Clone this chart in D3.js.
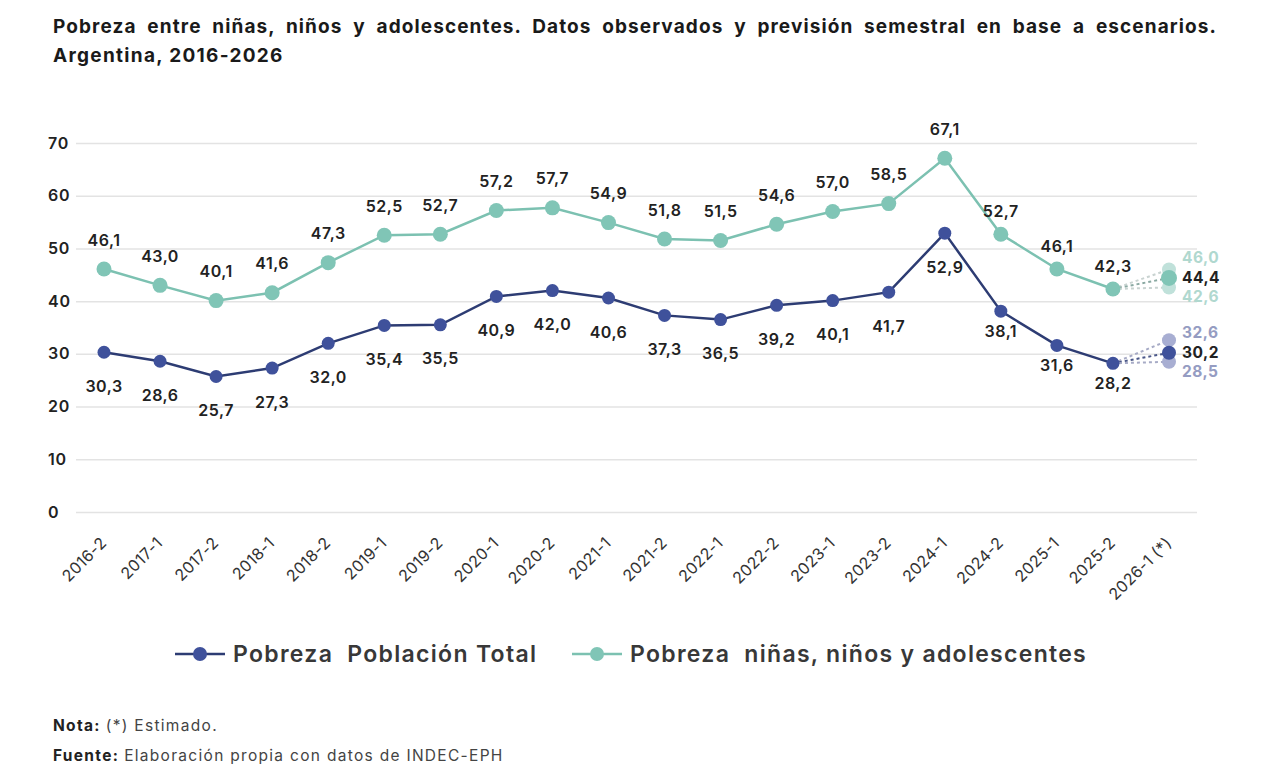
<!DOCTYPE html>
<html lang="es">
<head>
<meta charset="UTF-8">
<title>Pobreza entre niñas, niños y adolescentes</title>
<script src="https://d3js.org/d3.v7.min.js"></script>
<style>
  body { margin: 0; background: #fff; }
  svg { font-family: Inter, "Open Sans", sans-serif; }
  text { white-space: pre; }
</style>
</head>
<body>
<script>
// semestres observados + estimado
const categories = ["2016-2", "2017-1", "2017-2", "2018-1", "2018-2", "2019-1", "2019-2",
  "2020-1", "2020-2", "2021-1", "2021-2", "2022-1", "2022-2", "2023-1", "2023-2",
  "2024-1", "2024-2", "2025-1", "2025-2", "2026-1 (*)"];
const totalValues = [30.3, 28.6, 25.7, 27.3, 32.0, 35.4, 35.5, 40.9, 42.0, 40.6, 37.3,
  36.5, 39.2, 40.1, 41.7, 52.9, 38.1, 31.6, 28.2];
const childValues = [46.1, 43.0, 40.1, 41.6, 47.3, 52.5, 52.7, 57.2, 57.7, 54.9, 51.8,
  51.5, 54.6, 57.0, 58.5, 67.1, 52.7, 46.1, 42.3];
// escenarios 2026-1: alto, central, bajo
const totalScenarios = [32.6, 30.2, 28.5];
const childScenarios = [46.0, 44.4, 42.6];
const yTicks = [0, 10, 20, 30, 40, 50, 60, 70];

const width = 1280, height = 768;
const fmt = v => d3.format(".1f")(v).replace(".", ",");

const svg = d3.select("body").append("svg")
  .attr("width", width).attr("height", height);

// escalas
const x = d3.scalePoint().domain(categories).range([104, 1169]);
const y = d3.scaleLinear().domain([0, 70]).range([512, 143]);
const gridLeft = 76, gridRight = 1197;

// título (justificado a lo ancho)
const titleLines = [
  "Pobreza entre niñas, niños y adolescentes. Datos observados y previsión semestral en base a escenarios.",
  "Argentina, 2016-2026"
];
const title1 = svg.append("text")
  .attr("x", 53).attr("y", 33)
  .attr("font-size", 19).attr("font-weight", 700).attr("letter-spacing", 1.1).attr("fill", "#1a1a1a")
  .text(titleLines[0]);
const len = title1.node().getComputedTextLength();
const spaces = titleLines[0].split(" ").length - 1;
title1.attr("word-spacing", Math.max(0, (1217 - 53 - len) / spaces));
svg.append("text")
  .attr("x", 53).attr("y", 62)
  .attr("font-size", 19).attr("font-weight", 700).attr("letter-spacing", 1.3).attr("fill", "#1a1a1a")
  .text(titleLines[1]);

// eje y + grilla
const yAxis = svg.append("g")
  .attr("transform", "translate(" + gridLeft + ",0)")
  .call(d3.axisLeft(y).tickValues(yTicks).tickSize(-(gridRight - gridLeft)).tickFormat(d3.format("d")));
yAxis.select(".domain").remove();
yAxis.selectAll(".tick line").attr("stroke", "#e3e3e3").attr("stroke-width", 1.5);
yAxis.selectAll(".tick text")
  .attr("x", -28).attr("text-anchor", "start")
  .attr("font-family", "Inter, sans-serif")
  .attr("font-size", 16).attr("font-weight", 600).attr("letter-spacing", 0.8).attr("fill", "#222");

// eje x
const xAxis = svg.append("g")
  .attr("transform", "translate(0," + y(0) + ")")
  .call(d3.axisBottom(x).tickSize(0));
xAxis.select(".domain").remove();
xAxis.selectAll(".tick text")
  .attr("text-anchor", "end")
  .attr("dy", 0).attr("y", 0)
  .attr("transform", "translate(3,32) rotate(-45)")
  .attr("font-family", "Inter, sans-serif")
  .attr("font-size", 16).attr("font-weight", 400).attr("letter-spacing", 0.3).attr("fill", "#333");

const series = [
  { values: totalValues, scen: totalScenarios, line: "#2d3c73", dot: "#3f519b", r: 6.5,
    light: "#a8aed2", lightText: "#959cc2", dash: ["#a7abc6", "#4a5788", "#a7abc6"], labelDy: 34 },
  { values: childValues, scen: childScenarios, line: "#7cc1b1", dot: "#80c5b6", r: 7.5,
    light: "#c0e1da", lightText: "#b0d8cf", dash: ["#c9d3d1", "#8aa9a2", "#c9d3d1"], labelDy: -29 }
];

const line = d3.line().x((d, i) => x(categories[i])).y(d => y(d));
const last = categories.length - 2;
const est = categories[categories.length - 1];

series.forEach(s => {
  // líneas punteadas hacia los escenarios
  s.scen.forEach((v, j) => {
    svg.append("line")
      .attr("x1", x(categories[last])).attr("y1", y(s.values[last]))
      .attr("x2", x(est)).attr("y2", y(v))
      .attr("stroke", s.dash[j]).attr("stroke-width", 2)
      .attr("stroke-dasharray", "3,3");
  });

  svg.append("path")
    .datum(s.values)
    .attr("fill", "none")
    .attr("stroke", s.line)
    .attr("stroke-width", 2.5)
    .attr("d", line);

  svg.selectAll(null)
    .data(s.values)
    .enter().append("circle")
    .attr("cx", (d, i) => x(categories[i]))
    .attr("cy", d => y(d))
    .attr("r", s.r)
    .attr("fill", s.dot);

  svg.selectAll(null)
    .data(s.values)
    .enter().append("text")
    .attr("x", (d, i) => x(categories[i]))
    .attr("y", (d, i) => y(d) + (i >= 16 ? (s.labelDy > 0 ? 20 : -23) : s.labelDy))
    .attr("dy", "0.35em")
    .attr("text-anchor", "middle")
    .attr("font-size", 16).attr("font-weight", 600).attr("letter-spacing", 0.5).attr("fill", "#222")
    .text(d => fmt(d));

  // puntos de escenarios (central encima)
  [0, 2, 1].forEach(j => {
    svg.append("circle")
      .attr("cx", x(est)).attr("cy", y(s.scen[j]))
      .attr("r", j === 1 ? s.r + 0.5 : 7)
      .attr("fill", j === 1 ? s.dot : s.light);
  });
  const yc = y(s.scen[1]);
  const labelY = [yc - 20, yc, yc + 19];
  s.scen.forEach((v, j) => {
    svg.append("text")
      .attr("x", x(est) + 13).attr("y", labelY[j])
      .attr("dy", "0.35em")
      .attr("font-size", 15.5).attr("font-weight", 700).attr("letter-spacing", 0.5)
      .attr("fill", j === 1 ? "#222" : s.lightText)
      .text(fmt(v));
  });
});

// leyenda
const legend = [
  { label: "Pobreza  Población Total", x: 175, line: "#2d3c73", dot: "#3f519b" },
  { label: "Pobreza  niñas, niños y adolescentes", x: 572, line: "#7cc1b1", dot: "#80c5b6" }
];
legend.forEach(l => {
  const g = svg.append("g").attr("transform", "translate(" + l.x + ",654)");
  g.append("line").attr("x1", 0).attr("x2", 50).attr("stroke", l.line).attr("stroke-width", 2.5);
  g.append("circle").attr("cx", 25).attr("r", 7).attr("fill", l.dot);
  g.append("text").attr("x", 58).attr("dy", "0.35em")
    .attr("font-size", 23).attr("font-weight", 600).attr("letter-spacing", 1.3).attr("fill", "#383838")
    .text(l.label);
});

// notas
const notes = [["Nota: ", "(*) Estimado."], ["Fuente: ", "Elaboración propia con datos de INDEC-EPH"]];
notes.forEach((n, i) => {
  const t = svg.append("text").attr("x", 53).attr("y", 731 + i * 30)
    .attr("font-size", 15.5).attr("letter-spacing", 1.3).attr("fill", "#444");
  t.append("tspan").attr("font-weight", 700).attr("fill", "#222").text(n[0]);
  t.append("tspan").text(n[1]);
});
</script>
</body>
</html>
